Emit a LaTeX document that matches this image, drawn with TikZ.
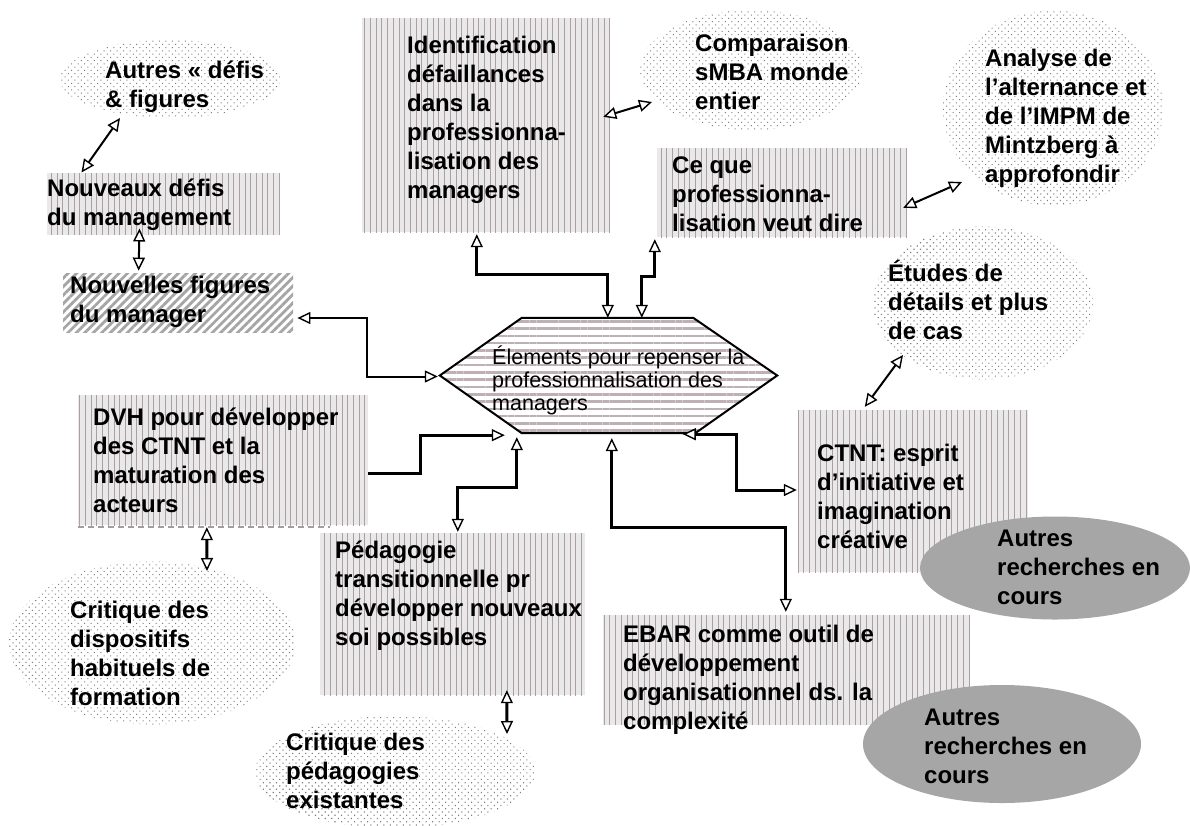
\documentclass[tikz,border=0pt]{standalone}
\usepackage{fontspec}
\setmainfont{Liberation Sans}
\usetikzlibrary{arrows.meta,patterns.meta,calc,shapes.geometric}
\definecolor{boxbg}{RGB}{233,233,233}
\definecolor{stripe}{RGB}{172,158,163}
\definecolor{hexstripe}{RGB}{190,176,180}
\definecolor{hatchc}{RGB}{165,165,165}
\definecolor{dotc}{RGB}{125,125,125}
\definecolor{grayfill}{RGB}{166,166,166}
\newcommand\mystrut{\rule{0pt}{22pt}}
\newcommand\hexstrut{\rule{0pt}{20pt}}
\begin{document}
\begin{tikzpicture}[x=1pt,y=-1pt,
  stripebox/.style={rectangle,inner sep=0pt,draw=none,preaction={fill=boxbg},
    pattern={Lines[angle=90,distance=5.7pt,line width=1pt]},pattern color=stripe},
  hatchbox/.style={rectangle,inner sep=0pt,draw=none,preaction={fill=white},
    pattern={Lines[angle=45,distance=6pt,line width=2.8pt]},pattern color=hatchc},
  dotell/.style={ellipse,inner sep=0pt,draw=none,preaction={fill=white},
    pattern={Dots[radius=0.75pt,distance=4.6pt,angle=45]},pattern color=dotc},
  grayell/.style={ellipse,inner sep=0pt,draw=none,fill=grayfill},
  hexfill/.style={preaction={fill=white},pattern={Lines[angle=0,distance=7.3pt,line width=2.6pt]},
    pattern color=hexstripe,draw=black,line width=2pt,line join=miter},
  txt/.style={anchor=north west,inner sep=0pt,align=left,
    font=\bfseries\fontsize{24}{29}\selectfont},
  hextxt/.style={anchor=north west,inner sep=0pt,align=left,
    font=\mdseries\fontsize{21.5}{23}\selectfont},
  thickc/.style={line width=3pt},
  thinc/.style={line width=2pt},
  dbl/.style={{Triangle[length=13pt,width=12pt,fill=white,line width=1.4pt]}-{Triangle[length=13pt,width=12pt,fill=white,line width=1.4pt]}},
  sgl/.style={-{Triangle[length=13pt,width=12pt,fill=white,line width=1.4pt]}}
]
\fill[white] (0,0) rectangle (1190,825);
\useasboundingbox (0,0) rectangle (1190,825);

% boxes
\node[stripebox,minimum width=233pt,minimum height=62pt] (b_nouv) at (163.5,204) {};
\node[hatchbox,minimum width=230pt,minimum height=59pt] (b_fig) at (178,302.5) {};
\node[stripebox,minimum width=248pt,minimum height=214pt] (b_ident) at (486,125) {};
\node[stripebox,minimum width=250pt,minimum height=89pt] (b_ceque) at (782,192.5) {};
\node[stripebox,minimum width=290pt,minimum height=130pt] (b_dvh) at (223,460) {};
\node[stripebox,minimum width=265pt,minimum height=162pt] (b_peda) at (452.5,614) {};
\node[stripebox,minimum width=230pt,minimum height=162pt] (b_ctnt) at (913,491) {};
\node[stripebox,minimum width=367pt,minimum height=110pt] (b_ebar) at (786.5,670) {};
\draw[gray!75,line width=1.5pt,dash pattern=on 6pt off 4pt] ($(b_dvh.south west)+(0,2)$) -- ($(b_dvh.south east)+(-38,2)$);

% dotted ellipses
\node[dotell,minimum width=220pt,minimum height=78pt] (e_defis) at (170,79) {};
\node[dotell,minimum width=222pt,minimum height=120pt] (e_comp) at (751,70) {};
\node[dotell,minimum width=220pt,minimum height=195pt] (e_analyse) at (1053,108) {};
\node[dotell,minimum width=220pt,minimum height=153pt] (e_etudes) at (983,303) {};
\node[dotell,minimum width=286pt,minimum height=163pt] (e_crit1) at (152,643) {};
\node[dotell,minimum width=280pt,minimum height=112pt] (e_crit2) at (395,772) {};

% grey ellipses
\node[grayell,minimum width=270pt,minimum height=103pt] (g_one) at (1055,568) {};
\node[grayell,minimum width=278pt,minimum height=118pt] (g_two) at (1002,744) {};

% central hexagon
\node[inner sep=0pt,minimum width=337pt,minimum height=115pt] (hex) at (608.5,375.5) {};
\path[hexfill] (hex.west) -- ($(hex.north west)+(82,0)$) -- ($(hex.north east)+(-84,0)$)
  -- (hex.east) -- ($(hex.south east)+(-82,0)$) -- ($(hex.south west)+(82,0)$) -- cycle;

% connectors
\draw[thinc,dbl] ($(b_nouv.north west)+(35,0)$) -- ($(e_defis.center)+(-50,39)$);
\draw[thinc,dbl] ($(b_nouv.south west)+(93,-7)$) -- ($(b_fig.north west)+(77,-1)$);
\draw[thinc,dbl] ($(b_ident.north east)+(-7,99)$) -- ($(e_comp.center)+(-99,32)$);
\draw[thinc,dbl] ($(b_ceque.north east)+(-4,60)$) -- ($(e_analyse.center)+(-91,74)$);
\draw[thinc,dbl] ($(b_ctnt.north west)+(67,-3)$) -- ($(e_etudes.center)+(-80,52)$);
\draw[thickc,dbl] ($(hex.north west)+(168,0)$) -- ++(0,-43) -| ($(b_ident.south west)+(115,2)$);
\draw[thickc,dbl] ($(hex.north west)+(202,0)$) -- ++(0,-41) -| ($(b_ceque.south west)+(-2,2)$);
\draw[thinc,dbl] ($(hex.west)+(-2,1)$) -- ++(-71,0) |- ($(b_fig.east)+(3,15.5)$);
\draw[thickc,sgl] ($(b_dvh.east)+(0,13)$) -- ++(52,0) |- ($(hex.south west)+(65,2)$);
\draw[thickc,dbl] ($(hex.south west)+(77,4)$) -- ++(0,50) -| ($(b_peda.north west)+(138,-1)$);
\draw[thickc,dbl] ($(hex.south west)+(172,5)$) -- ++(0,89) -| ($(b_ebar.north west)+(183,-3)$);
\draw[thickc,dbl] ($(hex.south west)+(243,1)$) -- ++(54,0) |- ($(b_ctnt.west)+(-1,-1)$);
\draw[thickc,dbl] ($(b_dvh.south west)+(129,2)$) -- ($(e_crit1.center)+(55,-72)$);
\draw[thickc,dbl] ($(b_peda.south west)+(187,-5)$) -- ($(e_crit2.center)+(112,-38)$);

% texts
\node[txt] (t_defis) at (105,56) {\mystrut Autres « défis\\\& figures};
\node[txt] (t_nouv) at (47,174) {\mystrut Nouveaux défis\\du management};
\node[txt] (t_fig) at (70,271) {\mystrut Nouvelles figures\\du manager};
\node[txt] (t_ident) at (407,31) {\mystrut Identification\\défaillances\\dans la\\professionna-\\lisation des\\managers};
\node[txt] (t_comp) at (695,29) {\mystrut Comparaison\\sMBA monde\\entier};
\node[txt] (t_ceque) at (672,151) {\mystrut Ce que\\professionna-\\lisation veut dire};
\node[txt] (t_analyse) at (985,44) {\mystrut Analyse de\\l'alternance et\\de l'IMPM de\\Mintzberg à\\approfondir};
\node[txt] (t_etudes) at (888,259) {\mystrut Études de\\détails et plus\\de cas};
\node[txt] (t_ctnt) at (817,439) {\mystrut CTNT: esprit\\d’initiative et\\imagination\\créative};
\node[txt] (t_gone) at (997,524) {\mystrut Autres\\recherches en\\cours};
\node[txt] (t_ebar) at (623,620) {\mystrut EBAR comme outil de\\développement\\organisationnel ds. la\\complexité};
\node[txt] (t_gtwo) at (924,703) {\mystrut Autres\\recherches en\\cours};
\node[txt] (t_dvh) at (93,403) {\mystrut DVH pour développer\\des CTNT et la\\maturation des\\acteurs};
\node[txt] (t_peda) at (335,536) {\mystrut Pédagogie\\transitionnelle pr\\développer nouveaux\\soi possibles};
\node[txt] (t_crit1) at (70,596) {\mystrut Critique des\\dispositifs\\habituels de\\formation};
\node[txt] (t_crit2) at (286,728) {\mystrut Critique des\\pédagogies\\existantes};
\node[hextxt] (t_hex) at (492,344) {\hexstrut Élements pour repenser la\\professionnalisation des\\managers};
\end{tikzpicture}
\end{document}
